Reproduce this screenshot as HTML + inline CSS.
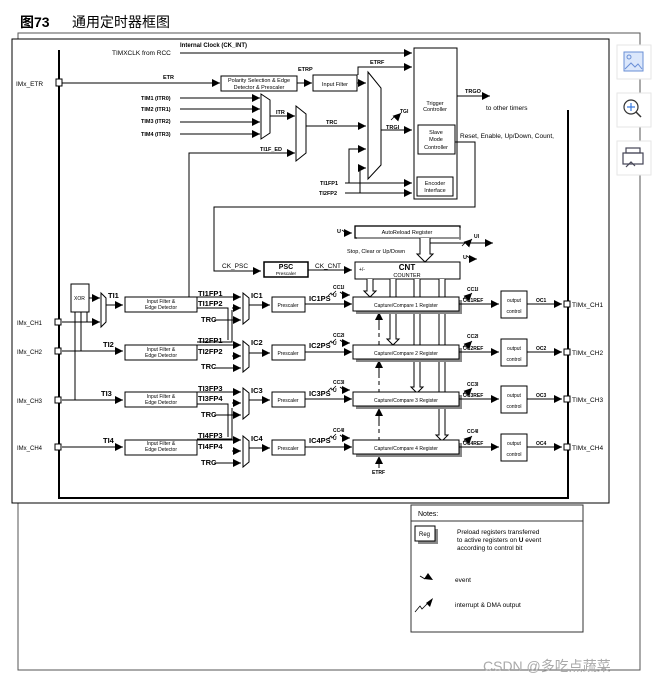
<!DOCTYPE html>
<html><head><meta charset="utf-8"><style>
html,body{margin:0;padding:0;background:#fff;}
svg{display:block;font-family:"Liberation Sans",Arial,sans-serif;}
.s{font-size:5.5px;}
.b{font-weight:bold;}
</style></head><body>
<svg width="669" height="687" viewBox="0 0 669 687" xmlns="http://www.w3.org/2000/svg">
<defs>
<marker id="a" viewBox="0 0 10 10" refX="10" refY="5" markerWidth="8" markerHeight="8" markerUnits="userSpaceOnUse" orient="auto"><path d="M0,0L10,5L0,10z" fill="#000"/></marker>
</defs>
<text x="20" y="27" font-size="14" font-weight="bold" font-family="Liberation Sans,Noto Sans CJK SC,sans-serif">图73</text>
<text x="72" y="27" font-size="14" font-family="Liberation Sans,Noto Sans CJK SC,sans-serif">通用定时器框图</text>
<path d="M18,33H640V670H18Z" fill="none" stroke="#555" stroke-width="1"/>
<rect x="12" y="39" width="597" height="464" fill="#fff" stroke="#000" stroke-width="1"/>
<path d="M59,50V498H568V110" fill="none" stroke="#000" stroke-width="2"/>
<g fill="none" stroke="#000" stroke-width="1">
<path d="M180,53H412" marker-end="url(#a)"/>
<rect x="56" y="79" width="6" height="7" fill="#fff"/>
<path d="M62,83H220" marker-end="url(#a)"/>
<rect x="221" y="76" width="76" height="15"/>
<path d="M297,83H312" marker-end="url(#a)"/>
<rect x="313" y="75" width="44" height="16"/>
<path d="M357,83H366" marker-end="url(#a)"/>
<path d="M358,75V67H412" marker-end="url(#a)"/>
<path d="M180,98H260" marker-end="url(#a)"/><path d="M180,109H260" marker-end="url(#a)"/><path d="M180,122H260" marker-end="url(#a)"/><path d="M180,134H260" marker-end="url(#a)"/>
<polygon points="261,94 270,100 270,133 261,139"/>
<path d="M270,116H295" marker-end="url(#a)"/>
<polygon points="296,106 306,114 306,153 296,161"/>
<path d="M189,297V153H295" marker-end="url(#a)"/>
<path d="M306,126H366" marker-end="url(#a)"/>
<polygon points="368,72 381,88 381,165 368,179"/>
<path d="M381,130H412" marker-end="url(#a)"/>
<path d="M349,183V149H366" marker-end="url(#a)"/>
<path d="M360,193V168H366" marker-end="url(#a)"/>
<path d="M345,183H412" marker-end="url(#a)"/>
<path d="M345,193H412" marker-end="url(#a)"/>
<rect x="414" y="48" width="43" height="151"/>
<rect x="418" y="125" width="37" height="29"/>
<rect x="417" y="177" width="36" height="19"/>
<path d="M457,96H490" marker-end="url(#a)"/>
<path d="M455,142H475V207H214V271H261" marker-end="url(#a)"/>
<rect x="264" y="262" width="44" height="15" stroke-width="1.5"/>
<path d="M308,270H352" marker-end="url(#a)"/>
<rect x="355" y="262" width="105" height="17"/>
<rect x="355" y="226" width="105" height="12" stroke-width="1.3"/>
<path d="M460,228V240M357,238H461" stroke="#888" stroke-width="1.5"/>
<path d="M420,238V254h-3l8,8l8,-8h-3V238" fill="#fff"/>
<path d="M430,243H493" marker-end="url(#a)"/>
<path d="M367,279V291h-3l6,6l6,-6h-3V279" fill="#fff"/>
<path d="M390,279V339h-3l6,6l6,-6h-3V279" fill="#fff"/>
<path d="M414,279V387h-3l6,6l6,-6h-3V279" fill="#fff"/>
<path d="M439,279V435h-3l6,6l6,-6h-3V279" fill="#fff"/>
<path d="M379,441V312" stroke-dasharray="4,4"/>
<path d="M379,330V312" marker-end="url(#a)"/>
<path d="M379,378V360" marker-end="url(#a)"/>
<path d="M379,426V408" marker-end="url(#a)"/>
<path d="M379,468V456" marker-end="url(#a)"/>
<rect x="71" y="284" width="18" height="28"/>
<path d="M89,298H100" marker-end="url(#a)"/>
<polygon points="101,293 106,298 106,322 101,327"/>
<path d="M106,305H123" marker-end="url(#a)"/>
<path d="M62,322H100" marker-end="url(#a)"/>
<path d="M75,312V400M81,312V351M87,312V322"/>
<path d="M62,351H123" marker-end="url(#a)"/>
<path d="M62,400H123" marker-end="url(#a)"/>
<path d="M62,447H123" marker-end="url(#a)"/>
<rect x="55" y="319" width="6" height="6" fill="#fff"/>
<rect x="55" y="348" width="6" height="6" fill="#fff"/>
<rect x="55" y="397" width="6" height="6" fill="#fff"/>
<rect x="55" y="444" width="6" height="6" fill="#fff"/>
<path d="M197,308H228V340" /><path d="M197,342H232V310"/>
<path d="M197,404H228V437"/><path d="M197,439H232V408"/>
</g>
<g id="ch1" fill="none" stroke="#000" stroke-width="1">
<rect x="125" y="297" width="72" height="15"/>
<path d="M197,297H241" marker-end="url(#a)"/>
<path d="M232,308H241" marker-end="url(#a)"/>
<path d="M214,320H241" marker-end="url(#a)"/>
<polygon points="243,293 249,298 249,319 243,324"/>
<path d="M249,305H270" marker-end="url(#a)"/>
<rect x="272" y="297" width="33" height="15"/>
<path d="M305,304H352" marker-end="url(#a)"/>
<path d="M340,292l4,3" /><path d="M344,295l6,0" marker-end="url(#a)" stroke-width="0.8"/>
<rect x="356" y="300" width="106" height="14" fill="#888" stroke="none"/>
<rect x="353" y="297" width="106" height="14" fill="#fff"/>
<path d="M459,304H499" marker-end="url(#a)"/>
<rect x="501" y="291" width="26" height="27"/>
<path d="M527,304H562" marker-end="url(#a)"/>
<rect x="564" y="301" width="6" height="6" fill="#fff"/>
<path d="M463,299l3,-3l1,2l5,-5" marker-end="url(#a)" stroke-width="0.8"/>
<path d="M328,296l3,-3l1,2l4,-4" stroke-width="0.8"/>
</g>
<use href="#ch1" transform="translate(0,48)"/>
<use href="#ch1" transform="translate(0,95)"/>
<use href="#ch1" transform="translate(0,143)"/>
<g fill="none" stroke="#000" stroke-width="0.8">
<path d="M391,120l4,-4l1,2l5,-5" marker-end="url(#a)"/>
<path d="M462,246l4,-4l1,2l5,-5" marker-end="url(#a)"/>
<path d="M342,230l4,3h6" marker-end="url(#a)"/>
<path d="M467,256l4,3h6" marker-end="url(#a)"/>
</g>
<g font-size="6.5" fill="#000">
<text x="180" y="47" class="b" font-size="6">Internal Clock (CK_INT)</text>
<text x="112" y="55" font-size="6.5">TIMXCLK from RCC</text>
<text x="16" y="86">IMx_ETR</text>
<text x="163" y="79" class="b" font-size="5.5">ETR</text>
<text x="259" y="82" class="s" text-anchor="middle">Polarity Selection &amp; Edge</text>
<text x="259" y="89" class="s" text-anchor="middle">Detector &amp; Prescaler</text>
<text x="298" y="71" class="b" font-size="5.5">ETRP</text>
<text x="335" y="86" class="s" text-anchor="middle">Input Filter</text>
<text x="370" y="64" class="b" font-size="5.5">ETRF</text>
<text x="141" y="100" class="b" font-size="5.5">TIM1 (ITR0)</text>
<text x="141" y="111" class="b" font-size="5.5">TIM2 (ITR1)</text>
<text x="141" y="123" class="b" font-size="5.5">TIM3 (ITR2)</text>
<text x="141" y="136" class="b" font-size="5.5">TIM4 (ITR3)</text>
<text x="276" y="114" class="b" font-size="5.5">ITR</text>
<text x="260" y="151" class="b" font-size="5.5">TI1F_ED</text>
<text x="326" y="124" class="b" font-size="5.5">TRC</text>
<text x="400" y="113" class="b" font-size="5">TGI</text>
<text x="386" y="129" class="b" font-size="5.5">TRGI</text>
<text x="320" y="185" class="b" font-size="5.5">TI1FP1</text>
<text x="319" y="195" class="b" font-size="5.5">TI2FP2</text>
<text x="435" y="105" class="s" text-anchor="middle">Trigger</text>
<text x="435" y="111" class="s" text-anchor="middle">Controller</text>
<text x="436" y="134" class="s" text-anchor="middle">Slave</text>
<text x="436" y="141" class="s" text-anchor="middle">Mode</text>
<text x="436" y="149" class="s" text-anchor="middle">Controller</text>
<text x="435" y="185" class="s" text-anchor="middle">Encoder</text>
<text x="435" y="192" class="s" text-anchor="middle">Interface</text>
<text x="465" y="93" class="b" font-size="5.5">TRGO</text>
<text x="486" y="110" font-size="6.5">to other timers</text>
<text x="460" y="138" font-size="6.5">Reset, Enable, Up/Down, Count,</text>
<text x="337" y="233" font-size="5.5" class="b">U</text>
<text x="407" y="234" class="s" text-anchor="middle">AutoReload Register</text>
<text x="474" y="238" class="b" font-size="5">UI</text>
<text x="347" y="253" class="s">Stop, Clear or Up/Down</text>
<text x="463" y="259" class="b" font-size="5.5">U</text>
<text x="222" y="268" font-size="6.5">CK_PSC</text>
<text x="286" y="269" class="b" font-size="7" text-anchor="middle">PSC</text>
<text x="286" y="275" font-size="4.8" text-anchor="middle">Prescaler</text>
<text x="315" y="268" font-size="6.5">CK_CNT</text>
<text x="359" y="271" font-size="5">+/-</text>
<text x="407" y="270" class="b" font-size="8" text-anchor="middle">CNT</text>
<text x="407" y="277" font-size="5.5" text-anchor="middle">COUNTER</text>
<text x="74" y="300" font-size="5">XOR</text>
<text x="108" y="298" class="b" font-size="7.5">TI1</text>
<text x="103" y="347" class="b" font-size="7.5">TI2</text>
<text x="101" y="396" class="b" font-size="7.5">TI3</text>
<text x="103" y="443" class="b" font-size="7.5">TI4</text>
<text x="17" y="325" font-size="6">IMx_CH1</text>
<text x="17" y="354" font-size="6">IMx_CH2</text>
<text x="17" y="403" font-size="6">IMx_CH3</text>
<text x="17" y="450" font-size="6">IMx_CH4</text>
<g font-size="5" text-anchor="middle">
<text x="161" y="303">Input Filter &amp;</text><text x="161" y="309">Edge Detector</text>
<text x="161" y="351">Input Filter &amp;</text><text x="161" y="357">Edge Detector</text>
<text x="161" y="398">Input Filter &amp;</text><text x="161" y="404">Edge Detector</text>
<text x="161" y="445">Input Filter &amp;</text><text x="161" y="451">Edge Detector</text>
<text x="288" y="307">Prescaler</text><text x="288" y="355">Prescaler</text><text x="288" y="402">Prescaler</text><text x="288" y="450">Prescaler</text>
<text x="406" y="307">Capture/Compare 1 Register</text>
<text x="406" y="355">Capture/Compare 2 Register</text>
<text x="406" y="402">Capture/Compare 3 Register</text>
<text x="406" y="450">Capture/Compare 4 Register</text>
<text x="514" y="302">output</text><text x="514" y="313">control</text>
<text x="514" y="350">output</text><text x="514" y="361">control</text>
<text x="514" y="397">output</text><text x="514" y="408">control</text>
<text x="514" y="445">output</text><text x="514" y="456">control</text>
</g>
<g class="b" font-size="7.5">
<text x="198" y="296">TI1FP1</text><text x="198" y="306">TI1FP2</text><text x="201" y="322">TRC</text>
<text x="198" y="343">TI2FP1</text><text x="198" y="354">TI2FP2</text><text x="201" y="369">TRC</text>
<text x="198" y="391">TI3FP3</text><text x="198" y="401">TI3FP4</text><text x="201" y="417">TRC</text>
<text x="198" y="438">TI4FP3</text><text x="198" y="449">TI4FP4</text><text x="201" y="465">TRC</text>
<text x="251" y="298">IC1</text><text x="251" y="345">IC2</text><text x="251" y="393">IC3</text><text x="251" y="441">IC4</text>
<text x="309" y="301">IC1PS</text><text x="309" y="348">IC2PS</text><text x="309" y="396">IC3PS</text><text x="309" y="443">IC4PS</text>
</g>
<g class="b" font-size="5">
<text x="333" y="289">CC1I</text><text x="333" y="337">CC2I</text><text x="333" y="384">CC3I</text><text x="333" y="432">CC4I</text>
<text x="467" y="291">CC1I</text><text x="467" y="338">CC2I</text><text x="467" y="386">CC3I</text><text x="467" y="433">CC4I</text>
<text x="333" y="297">U</text><text x="333" y="345">U</text><text x="333" y="392">U</text><text x="333" y="440">U</text>
<text x="463" y="302">OC1REF</text><text x="463" y="350">OC2REF</text><text x="463" y="397">OC3REF</text><text x="463" y="445">OC4REF</text>
<text x="536" y="302">OC1</text><text x="536" y="350">OC2</text><text x="536" y="397">OC3</text><text x="536" y="445">OC4</text>
<text x="372" y="474">ETRF</text>
</g>
<g font-size="6.5">
<text x="572" y="307">TIMx_CH1</text><text x="572" y="355">TIMx_CH2</text><text x="572" y="402">TIMx_CH3</text><text x="572" y="450">TIMx_CH4</text>
</g>
</g>
<rect x="411" y="505" width="172" height="127" fill="#fff" stroke="#333"/>
<path d="M411,521H583" stroke="#333"/>
<text x="418" y="516" font-size="7">Notes:</text>
<rect x="418" y="529" width="20" height="15" fill="#888"/>
<rect x="415" y="526" width="20" height="15" fill="#fff" stroke="#000"/>
<text x="419" y="536" font-size="6">Reg</text>
<text x="457" y="534" font-size="6.5">Preload registers transferred</text>
<text x="457" y="542" font-size="6.5">to active registers on <tspan font-weight="bold">U</tspan> event</text>
<text x="457" y="550" font-size="6.5">according to control bit</text>
<path d="M420,576l5,3" stroke="#000" fill="none"/><path d="M424,579L433,580L428,573Z" fill="#000"/>
<text x="455" y="582" font-size="6.5">event</text>
<path d="M415,612l5,-6l2,3l5,-5" stroke="#000" fill="none" stroke-width="0.8"/><path d="M426,603L433,598L430,607Z" fill="#000"/>
<text x="455" y="607" font-size="6.5">interrupt &amp; DMA output</text>
<text x="483" y="671" font-size="14" fill="#aaa" font-family="Liberation Sans,Noto Sans CJK SC,sans-serif">CSDN @多吃点蔬菜</text>
<g>
<rect x="617" y="45" width="34" height="34" fill="#fff" stroke="#e6e6e6"/>
<rect x="624" y="52" width="19" height="19" fill="#dbe7fb" stroke="#6a8fd6"/>
<circle cx="629" cy="57" r="2" fill="none" stroke="#6a8fd6"/>
<path d="M625,69l6,-6l4,4l3,-3l4,5" fill="none" stroke="#6a8fd6"/>
<rect x="617" y="93" width="34" height="34" fill="#fff" stroke="#e6e6e6"/>
<circle cx="631" cy="107" r="7" fill="none" stroke="#333" stroke-width="1.2"/>
<path d="M636,112l5,5" stroke="#333" stroke-width="1.5"/>
<path d="M627,107h8M631,103v8" stroke="#3b7be0" stroke-width="1.2"/>
<rect x="617" y="141" width="34" height="34" fill="#fff" stroke="#e6e6e6"/>
<rect x="626" y="148" width="14" height="5" fill="none" stroke="#445" stroke-width="1.2"/>
<rect x="623" y="153" width="20" height="11" fill="none" stroke="#445" stroke-width="1.2"/>
<path d="M626,167l5,-5l4,4" fill="none" stroke="#445" stroke-width="1.2"/>
</g>
</svg>
</body></html>
